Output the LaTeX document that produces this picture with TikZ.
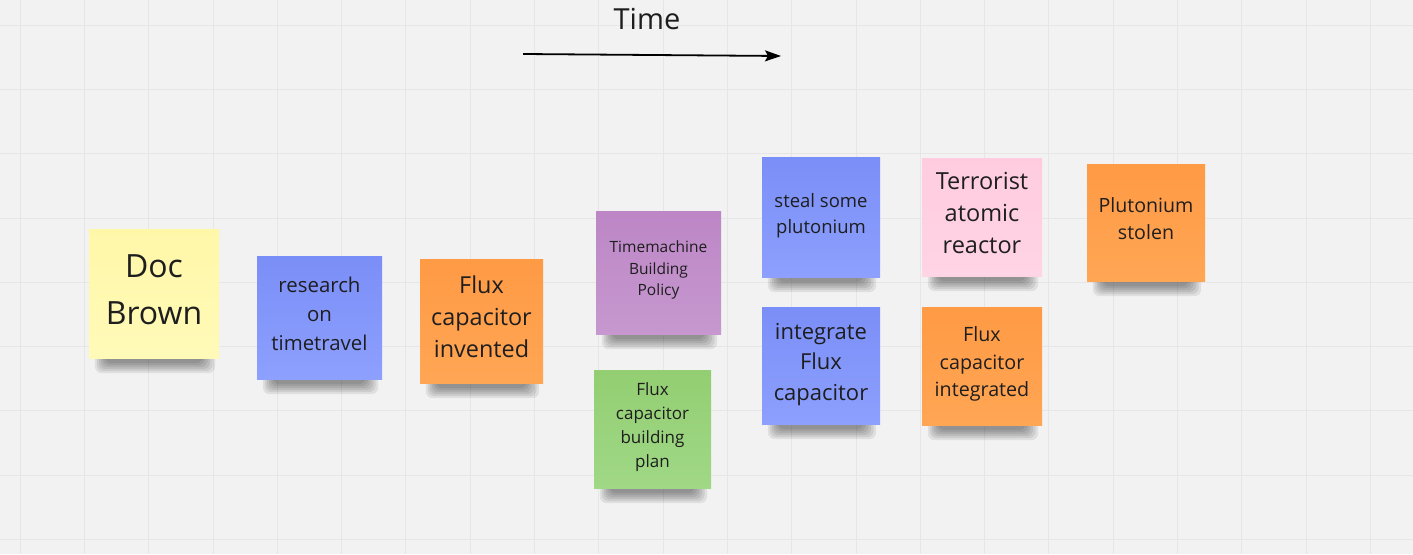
\documentclass[tikz,border=0pt]{standalone}
\usepackage{fontspec}
\setmainfont{Open Sans}
\usetikzlibrary{arrows.meta}

\definecolor{board}{HTML}{F2F2F2}
\definecolor{gridline}{HTML}{E6E6E6}
\definecolor{inktext}{HTML}{1E1E1E}
\definecolor{yellowtop}{HTML}{FFF7A8}
\definecolor{yellowbot}{HTML}{FFFAB8}
\definecolor{bluetop}{HTML}{7A8EF7}
\definecolor{bluebot}{HTML}{8DA0FE}
\definecolor{orangetop}{HTML}{FF9A45}
\definecolor{orangebot}{HTML}{FFA654}
\definecolor{purpletop}{HTML}{BD86C6}
\definecolor{purplebot}{HTML}{C698CF}
\definecolor{greentop}{HTML}{93CE72}
\definecolor{greenbot}{HTML}{A0D886}
\definecolor{pinktop}{HTML}{FFCCDF}
\definecolor{pinkbot}{HTML}{FFD4E4}

\pgfdeclarelayer{board}
\pgfdeclarelayer{shadow}
\pgfsetlayers{board,shadow,main}

\tikzset{
  note/.style={inner sep=2pt, align=center, text=inktext, text depth=8pt},
  notesize/.style 2 args={minimum width=#1pt, minimum height=#2pt},
  fsz/.style 2 args={font=\fontsize{#1}{#2}\selectfont},
  yellownote/.style={note, top color=yellowtop, bottom color=yellowbot},
  bluenote/.style={note, top color=bluetop, bottom color=bluebot},
  orangenote/.style={note, top color=orangetop, bottom color=orangebot},
  purplenote/.style={note, top color=purpletop, bottom color=purplebot},
  greennote/.style={note, top color=greentop, bottom color=greenbot},
  pinknote/.style={note, top color=pinktop, bottom color=pinkbot},
  shadowband/.style={fill=black, opacity=0.08, rounded corners=7pt},
}

\begin{document}
\begin{tikzpicture}[x=1pt, y=-1pt]
\useasboundingbox (0,0) rectangle (1413,554);
% board grid
\begin{pgfonlayer}{board}
\fill[board] (0,0) rectangle (1413,554);
\foreach \i in {0,...,21}
  \draw[gridline, line width=0.8pt] (20+64.3*\i,0) -- (20+64.3*\i,554);
\foreach \j in {0,...,8}
  \draw[gridline, line width=0.8pt] (0,25+64.3*\j) -- (1413,25+64.3*\j);
\end{pgfonlayer}

% time axis
\node[text=inktext, fsz={29}{35}] (timelabel) at (647,19) {Time};
\coordinate (tstart) at (523,54);
\coordinate (tend) at (781,56);
\draw[line width=1.8pt, -{Stealth[length=16pt, width=11pt, inset=3pt]}] (tstart) -- (tend);

% sticky notes
\node[yellownote, notesize={130}{129}, fsz={32}{47}] (doc) at (154,293.5) {Doc\\Brown};
\node[bluenote, notesize={125}{123}, fsz={20.4}{29}] (research) at (319.5,317.5) {research\\on\\timetravel};
\node[orangenote, notesize={123}{124}, fsz={23.4}{32}] (invented) at (481.5,321) {Flux\\capacitor\\invented};
\node[purplenote, notesize={125}{123}, fsz={15.5}{21.5}] (policy) at (658.5,272.5) {Timemachine\\Building\\Policy};
\node[greennote, notesize={117}{118}, fsz={17}{24.3}] (plan) at (652.5,429) {Flux\\capacitor\\building\\plan};
\node[bluenote, notesize={118}{120}, fsz={18.5}{26}] (steal) at (821,217) {steal some\\plutonium};
\node[bluenote, notesize={118}{117}, fsz={22}{30.5}] (integrate) at (821,365.5) {integrate\\Flux\\capacitor};
\node[pinknote, notesize={120}{118}, fsz={23.5}{32}] (reactor) at (982,217) {Terrorist\\atomic\\reactor};
\node[orangenote, notesize={120}{118}, fsz={19.7}{27.5}] (integrated) at (982,366) {Flux\\capacitor\\integrated};
\node[orangenote, notesize={118}{117}, fsz={19.6}{27}] (stolen) at (1146,222.5) {Plutonium\\stolen};

% soft shadows under the notes
\begin{pgfonlayer}{shadow}
\foreach \n in {doc,research,invented,policy,plan,steal,integrate,reactor,integrated,stolen}
  \foreach \k in {0,...,5}
    \fill[shadowband] ([xshift=6pt+2*\k pt, yshift=6pt]\n.south west)
      rectangle ([xshift=-4pt-2.5*\k pt, yshift=-15pt+2*\k pt]\n.south east);
\end{pgfonlayer}
\end{tikzpicture}
\end{document}
